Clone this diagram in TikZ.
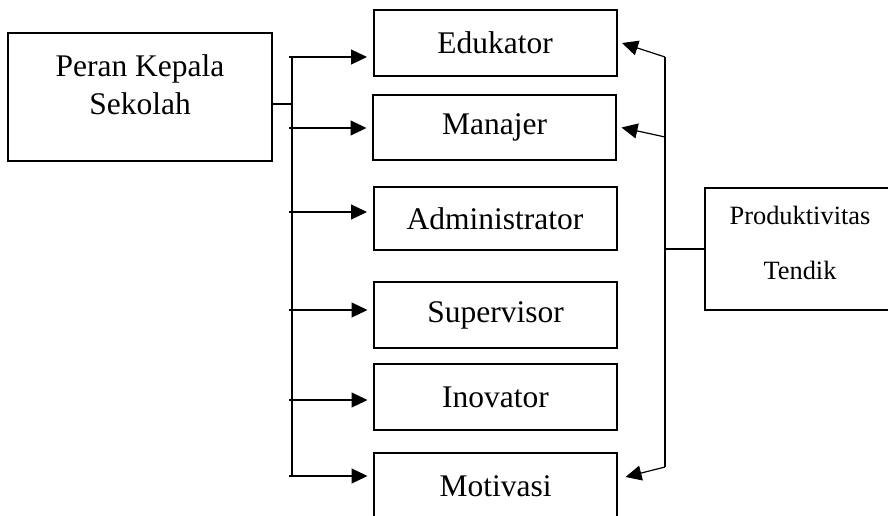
\documentclass[tikz,border=0pt]{standalone}
\usepackage{fontspec}
\setmainfont{Liberation Serif}
\usetikzlibrary{arrows.meta}
\begin{document}
\begin{tikzpicture}[x=1pt,y=-1pt,
  box/.style={draw, line width=2pt, minimum width=243pt, minimum height=66pt, inner sep=0pt, font=\fontsize{31.5}{38}\selectfont},
  bigtxt/.style={font=\fontsize{31.5}{38}\selectfont, inner sep=0pt, anchor=base},
  smalltxt/.style={font=\fontsize{26.4}{32}\selectfont, inner sep=0pt, anchor=base},
  frame/.style={draw, line width=2pt, inner sep=0pt},
  arr/.style={-{Triangle[length=16pt,width=15pt]}, line width=1.2pt},
  bus/.style={line width=2pt}]
\useasboundingbox (0,0) rectangle (888,516);
% left box
\node[frame, minimum width=264pt, minimum height=128pt] (pk) at (140,97) {};
\node[bigtxt] (pkt1) at (140,77) {Peran Kepala};
\node[bigtxt] (pkt2) at (140,115) {Sekolah};
% middle boxes
\node[box] (edu) at (495,43) {Edukator};
\node[box, minimum height=65pt] (man) at (494.5,127.5) {Manajer};
\node[box, minimum height=63pt] (adm) at (495,218.5) {Administrator};
\node[box] (sup) at (495.5,315) {Supervisor};
\node[box] (ino) at (495.5,397) {Inovator};
\node[box] (mot) at (495.5,486) {Motivasi};
% right box
\node[frame, minimum width=192pt, minimum height=122pt, anchor=north west] (prod) at (704,187) {};
\node[smalltxt] (prt1) at (800,224) {Produktivitas};
\node[smalltxt] (prt2) at (800,279) {Tendik};
% left bus
\coordinate (ltop) at (292,57);
\coordinate (lbot) at (292,476);
\coordinate (pkj) at (292,104);
\draw[bus] (ltop) -- (lbot);
\draw[bus] (pk.east |- pkj) -- (pkj);
\coordinate (la1) at (289,57);
\coordinate (la2) at (289,128);
\coordinate (la3) at (289,212);
\coordinate (la4) at (289,310);
\coordinate (la5) at (289,400);
\coordinate (la6) at (289,476);
\draw[arr] (la1) -- ([xshift=-5.5pt]edu.west |- la1);
\draw[arr] (la2) -- ([xshift=-5.5pt]man.west |- la2);
\draw[arr] (la3) -- ([xshift=-5.5pt]adm.west |- la3);
\draw[arr] (la4) -- ([xshift=-5.5pt]sup.west |- la4);
\draw[arr] (la5) -- ([xshift=-5.5pt]ino.west |- la5);
\draw[arr] (la6) -- ([xshift=-5.5pt]mot.west |- la6);
% right bus
\coordinate (rtop) at (665,57);
\coordinate (rmid) at (665,137);
\coordinate (rbot) at (665,467);
\coordinate (rj) at (665,249);
\draw[bus] (rtop) -- (rbot);
\draw[bus] (prod.west |- rj) -- (rj);
\draw[arr] (rtop) -- ([xshift=4.5pt]edu.east);
\draw[arr] (rmid) -- ([xshift=4.5pt]man.east);
\draw[arr] (rbot) -- ([xshift=7.5pt,yshift=9pt]mot.east);
\end{tikzpicture}
\end{document}
